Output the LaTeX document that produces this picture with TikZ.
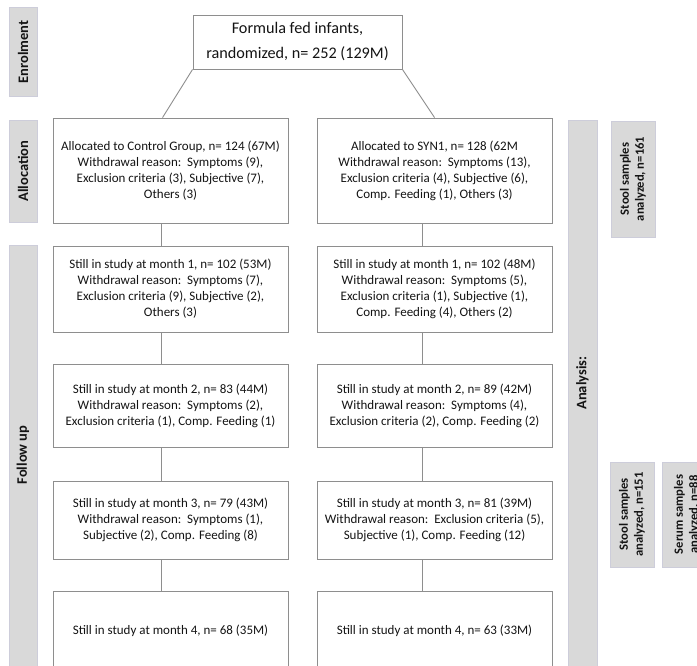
\documentclass[tikz,border=0pt]{standalone}
\usepackage{fontspec}
\setmainfont{Carlito}
\definecolor{boxline}{HTML}{8E8E8E}
\definecolor{txt}{HTML}{141414}
\definecolor{bandfill}{HTML}{D9D9D9}
\definecolor{bandline}{HTML}{CDCDDA}
\begin{document}
\begin{tikzpicture}[x=1pt,y=-1pt,
  flowbox/.style={draw=boxline, line width=0.9pt, fill=white, align=center,
    inner sep=0pt, text=txt, font=\fontsize{13}{16}\selectfont, minimum width=235pt},
  band/.style={fill=bandfill, draw=bandline, line width=0.4pt, inner sep=0pt},
  bandtext/.style={rotate=90, text=txt, inner sep=0pt, font=\bfseries\fontsize{14.5}{17}\selectfont},
  sample/.style={band, rotate=90, align=center, text=txt,
    font=\bfseries\fontsize{12.6}{15}\selectfont, minimum width=105pt, minimum height=44pt},
  link/.style={draw=boxline, line width=0.9pt}]
\useasboundingbox (0,0) rectangle (697,666);
\clip (0,0) rectangle (697,666);
\fill[white] (0,0) rectangle (697,666);

% phase bands on the left
\node[band, bandtext, minimum width=89pt, minimum height=28pt] (enrol) at (23,52) {Enrolment};
\node[band, bandtext, minimum width=102pt, minimum height=28pt] (alloc) at (23,171) {Allocation};
\node[band, minimum width=28pt, minimum height=430pt] (follow) at (23,460) {};
\node[bandtext] (followtxt) at (23,455) {Follow up};

% analysis band and sample counts on the right
\node[band, minimum width=29pt, minimum height=560pt] (analysis) at (582.5,400) {};
\node[bandtext] (analysistxt) at (582.5,383) {Analysis:};
\node[sample, minimum width=116pt] (stoolA) at (633,179) {Stool samples\\analyzed, n=161};
\node[sample] (stoolB) at (632,514.5) {Stool samples\\analyzed, n=151};
\node[sample, minimum height=50pt] (serum) at (687,514.5) {Serum samples\\analyzed, n=88};

% enrolment
\node[flowbox, minimum width=209pt, minimum height=54pt,
  font=\fontsize{16.2}{25}\selectfont] (top) at (297.5,42) {Formula fed infants,\\randomized, n= 252 (129M)};

% control arm
\node[flowbox, minimum height=105pt] (c0) at (170.5,170.5)
  {Allocated to Control Group, n= 124 (67M)\\Withdrawal reason:\ \ Symptoms (9),\\Exclusion criteria (3), Subjective (7),\\Others (3)};
\node[flowbox, minimum height=86pt] (c1) at (170.5,289)
  {Still in study at month 1, n= 102 (53M)\\Withdrawal reason:\ \ Symptoms (7),\\Exclusion criteria (9), Subjective (2),\\Others (3)};
\node[flowbox, minimum height=83pt] (c2) at (170.5,405.5)
  {Still in study at month 2, n= 83 (44M)\\Withdrawal reason:\ \ Symptoms (2),\\Exclusion criteria (1), Comp. Feeding (1)};
\node[flowbox, minimum height=78pt] (c3) at (170.5,520)
  {Still in study at month 3, n= 79 (43M)\\Withdrawal reason:\ \ Symptoms (1),\\Subjective (2), Comp. Feeding (8)};
\node[flowbox, minimum height=79pt] (c4) at (170.5,630.5)
  {Still in study at month 4, n= 68 (35M)};

% SYN1 arm
\node[flowbox, minimum height=105pt] (s0) at (434.5,170.5)
  {Allocated to SYN1, n= 128 (62M\\Withdrawal reason:\ \ Symptoms (13),\\Exclusion criteria (4), Subjective (6),\\Comp. Feeding (1), Others (3)};
\node[flowbox, minimum height=86pt] (s1) at (434.5,289)
  {Still in study at month 1, n= 102 (48M)\\Withdrawal reason:\ \ Symptoms (5),\\Exclusion criteria (1), Subjective (1),\\Comp. Feeding (4), Others (2)};
\node[flowbox, minimum height=83pt] (s2) at (434.5,405.5)
  {Still in study at month 2, n= 89 (42M)\\Withdrawal reason:\ \ Symptoms (4),\\Exclusion criteria (2), Comp. Feeding (2)};
\node[flowbox, minimum height=78pt] (s3) at (434.5,520)
  {Still in study at month 3, n= 81 (39M)\\Withdrawal reason:\ \ Exclusion criteria (5),\\Subjective (1), Comp. Feeding (12)};
\node[flowbox, minimum height=79pt] (s4) at (434.5,630.5)
  {Still in study at month 4, n= 63 (33M)};

% connectors
\path[link] (top.south west) -- ([xshift=110pt]c0.north west);
\path[link] (top.south east) -- ([xshift=118pt]s0.north west);
\foreach \a/\b in {c0/c1,c1/c2,c2/c3,c3/c4}
  \path[link] ([xshift=109pt]\a.south west) -- ([xshift=109pt]\b.north west);
\foreach \a/\b in {s0/s1,s1/s2,s2/s3,s3/s4}
  \path[link] ([xshift=106pt]\a.south west) -- ([xshift=106pt]\b.north west);
\end{tikzpicture}
\end{document}
